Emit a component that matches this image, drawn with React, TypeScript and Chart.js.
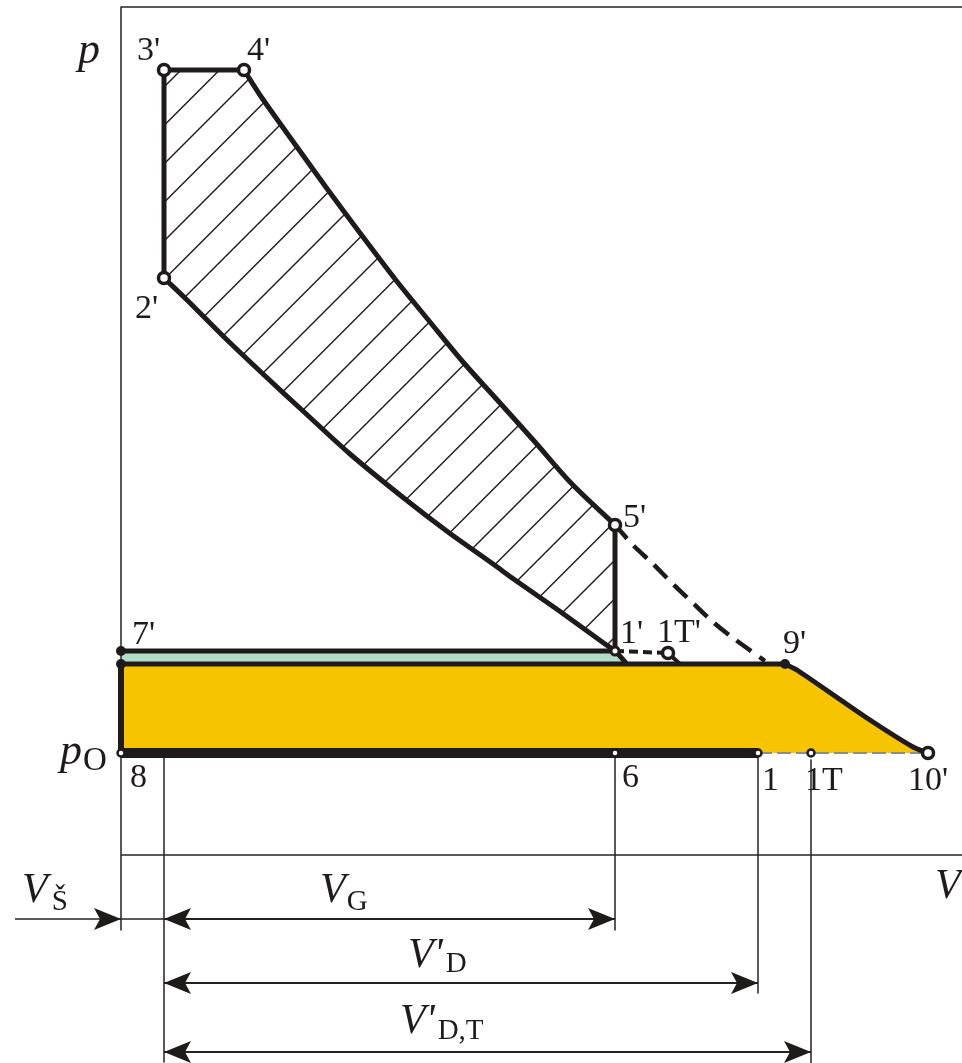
import { useEffect, useRef } from 'react';
import { Chart, registerables } from 'chart.js';

Chart.register(...registerables);

const WIDTH = 962;
const HEIGHT = 1063;

const INK = '#1f1b1b';
const THIN = '#262222';
const YELLOW = '#f6c400';
const MINT = '#b3ddc8';
const GREY_DASH = '#8c8c8c';
const SERIF = '"Liberation Serif", "Times New Roman", serif';

// Plot window in diagram units (V to the right, p upwards)
const V_MIN = -12.1;
const V_MAX = 84.1;
const P_MIN = -20.8;
const P_MAX = 85.5;

// Volumes of the marked states
const V_8 = 0;
const V_3 = 4.3; // 3' and 2' (clearance volume)
const V_4 = 12.3;
const V_5 = 49.4; // 5', 1' and 6
const V_1T1 = 54.7;
const V_1 = 63.7;
const V_9 = 66.4;
const V_1T = 69.0;
const V_10 = 80.7;
const V_CMP_END = 50.6;
const V_1T1_END = 55.9;
const V_LEADER = -10.6;

// Pressures of the marked states
const P_O = 10.2;
const P_9 = 19.1;
const P_7 = 20.4;
const P_1T1 = 20.2;
const P_5 = 33.0;
const P_2 = 57.7;
const P_3 = 78.5;
const P_FRAME = 84.8;
const P_DIM = [-6.4, -12.8, -19.7];

// Expansion 4' -> 5'
const EXP_V = [12.3, 14.1, 17.6, 20.7, 23.9, 27.4, 30.9, 34.2, 37.9, 41.4, 45.0, 49.4];
const EXP_P = [78.5, 75.7, 70.8, 66.5, 62.2, 57.6, 53.3, 49.3, 45.2, 41.3, 37.2, 33.0];
// Compression 2' -> 1'
const CMP_V = [4.3, 6.6, 10.2, 14.2, 18.2, 22.9, 28.4, 32.7, 37.2, 39.4, 43.7, 48.4, 49.4];
const CMP_P = [57.7, 55.5, 51.9, 48.1, 44.4, 40.1, 35.6, 32.3, 29.1, 27.5, 24.5, 21.1, 20.4];
// Dashed expansion 5' -> 9'
const BLOW_V = [49.4, 51.2, 53.2, 55.2, 57.2, 59.2, 61.2, 64.4];
const BLOW_P = [33.0, 31.0, 29.1, 27.1, 25.2, 23.3, 21.7, 19.4];
// Outflow 9' -> 10'
const OUT_V = [66.4, 67.6, 74.6, 79.2, 80.7];
const OUT_P = [19.1, 18.5, 13.7, 10.8, 10.2];

// Thin extension lines
const EXT_V = [V_8, V_3, V_5, V_1, V_1T];
const EXT_FROM = [P_FRAME, P_O, P_O, P_O, 9.5];
const EXT_TO = [-7.5, -20.7, -7.5, -13.8, P_MIN];

type Pt = { x: number; y: number };
const pts = (vs: number[], ps: number[]): Pt[] => vs.map((x, i) => ({ x, y: ps[i] }));
const P = (x: number, y: number): Pt => ({ x, y });

// State markers: [V, p, radius, border width, open?]
const MARKERS: [number, number, number, number, boolean][] = [
  [V_3, P_3, 5.5, 3.5, true],
  [V_4, P_3, 5.5, 3.5, true],
  [V_3, P_2, 5.5, 3.5, true],
  [V_5, P_5, 5.5, 3.5, true],
  [V_5, P_7, 4, 3, true],
  [V_1T1, P_1T1, 5.5, 3.5, true],
  [V_9, P_9, 4, 2, false],
  [V_10, P_O, 5.5, 3.5, true],
  [V_8, P_O, 3.5, 2.5, true],
  [V_5, P_O, 3.5, 2.5, true],
  [V_1, P_O, 3.5, 2.5, true],
  [V_1T, P_O, 3.5, 2.5, true],
  [V_8, P_7, 4, 2, false],
  [V_8, P_9, 4, 2, false],
];

// Labels of states: text, anchor V, anchor p, pixel offset
const STATE_LABELS: [string, number, number, number, number][] = [
  ["3'", V_3, P_3, -27, -10],
  ["4'", V_4, P_3, 3, -10],
  ["2'", V_3, P_2, -29, 40],
  ["5'", V_5, P_5, 8, 2],
  ["1'", V_5, P_7, 5, -8],
  ["1T'", V_1T1, P_1T1, -11, -11],
  ["9'", V_9, P_9, -2, -11],
  ["7'", V_8, P_7, 11, -7],
  ['8', V_8, P_O, 9, 34],
  ['6', V_5, P_O, 7, 34],
  ['1', V_1, P_O, 4, 37],
  ['1T', V_1T, P_O, -6, 37],
  ["10'", V_10, P_O, -20, 37],
];

type Part = { t: string; font: string; dy?: number; gap?: number };
const MAIN = `italic 42px ${SERIF}`;
const SUB = `29px ${SERIF}`;
const RICH_LABELS: { v: number; p: number; dx: number; dy: number; parts: Part[] }[] = [
  { v: V_8, p: P_3, dx: -43, dy: -7, parts: [{ t: 'p', font: `italic 44px ${SERIF}` }] },
  { v: V_8, p: P_O, dx: -61, dy: 11, parts: [{ t: 'p', font: `italic 44px ${SERIF}`, gap: 1 }, { t: 'O', font: `33px ${SERIF}`, dy: 6 }] },
  { v: V_MAX, p: 0, dx: -27, dy: 43, parts: [{ t: 'V', font: MAIN }] },
  { v: V_8, p: P_DIM[0], dx: -99, dy: -17, parts: [{ t: 'V', font: MAIN, gap: 4 }, { t: 'Š', font: SUB, dy: 8 }] },
  { v: V_3, p: P_DIM[0], dx: 156, dy: -17, parts: [{ t: 'V', font: MAIN, gap: 1 }, { t: 'G', font: SUB, dy: 8 }] },
  { v: V_3, p: P_DIM[1], dx: 244, dy: -16, parts: [{ t: "V'", font: MAIN, gap: 3 }, { t: 'D', font: SUB, dy: 5 }] },
  { v: V_3, p: P_DIM[2], dx: 236, dy: -19, parts: [{ t: "V'", font: MAIN, gap: 3 }, { t: 'D,T', font: SUB, dy: 6 }] },
];

// Arrow heads on dimension lines: V, p, direction
const ARROWS: [number, number, number][] = [
  [V_8, P_DIM[0], 1],
  [V_3, P_DIM[0], -1],
  [V_5, P_DIM[0], 1],
  [V_3, P_DIM[1], -1],
  [V_1, P_DIM[1], 1],
  [V_3, P_DIM[2], -1],
  [V_1T, P_DIM[2], 1],
];

function line(data: Pt[], width: number, color = INK, dash: number[] = [], tension = 0, order = 5) {
  return {
    data,
    borderColor: color,
    borderWidth: width,
    borderDash: dash,
    borderCapStyle: 'butt' as const,
    borderJoinStyle: 'round' as const,
    pointRadius: 0,
    fill: false,
    tension,
    order,
  };
}

function area(data: Pt[], color: string | CanvasPattern, order = 20) {
  return {
    data,
    borderWidth: 0,
    borderColor: 'rgba(0,0,0,0)',
    backgroundColor: color,
    pointRadius: 0,
    fill: 'shape',
    tension: 0,
    order,
  };
}

function hatch(ctx: CanvasRenderingContext2D): CanvasPattern | string {
  const tile = document.createElement('canvas');
  tile.width = 77;
  tile.height = 77;
  const t = tile.getContext('2d');
  if (!t) return 'rgba(0,0,0,0)';
  t.strokeStyle = INK;
  t.lineWidth = 1.4;
  for (const c of [-18.5, 20, 58.5, 97, 135.5, 174]) {
    t.beginPath();
    t.moveTo(c + 4, -4);
    t.lineTo(-4, c + 4);
    t.stroke();
  }
  return ctx.createPattern(tile, 'repeat') || 'rgba(0,0,0,0)';
}

const overlay = {
  id: 'overlay',
  afterDatasetsDraw(chart: any) {
    const { ctx } = chart;
    const sx = chart.scales.x;
    const sy = chart.scales.y;
    const px = (v: number) => sx.getPixelForValue(v);
    const py = (p: number) => sy.getPixelForValue(p);
    ctx.save();
    ctx.fillStyle = INK;
    for (const [v, p, dir] of ARROWS) {
      const x = px(v);
      const y = py(p);
      ctx.beginPath();
      ctx.moveTo(x, y);
      ctx.lineTo(x - dir * 27, y - 11);
      ctx.lineTo(x - dir * 21, y);
      ctx.lineTo(x - dir * 27, y + 11);
      ctx.closePath();
      ctx.fill();
    }
    ctx.textAlign = 'left';
    ctx.textBaseline = 'alphabetic';
    ctx.font = `34px ${SERIF}`;
    for (const [t, v, p, dx, dy] of STATE_LABELS) {
      ctx.fillText(t, px(v) + dx, py(p) + dy);
    }
    for (const l of RICH_LABELS) {
      let x = px(l.v) + l.dx;
      const y = py(l.p) + l.dy;
      for (const part of l.parts) {
        ctx.font = part.font;
        ctx.fillText(part.t, x, y + (part.dy || 0));
        x += ctx.measureText(part.t).width + (part.gap || 0);
      }
    }
    ctx.restore();
  },
};

export default function App() {
  const ref = useRef<HTMLCanvasElement>(null);

  useEffect(() => {
    const canvas = ref.current;
    if (!canvas) return;
    const ctx = canvas.getContext('2d');
    if (!ctx) return;

    const expansion = pts(EXP_V, EXP_P);
    const compression = pts(CMP_V, CMP_P);
    const outflow = pts(OUT_V, OUT_P);

    const cycle = [P(V_3, P_3), ...expansion, P(V_5, P_7), ...compression.slice().reverse()];
    const mint = [P(V_8, P_7), P(V_5, P_7), P(V_CMP_END, P_9), P(V_8, P_9)];
    const yellow = [P(V_8, P_9), ...outflow, P(V_8, P_O)];

    const datasets: any[] = [
      area(yellow, YELLOW, 30),
      area(mint, MINT, 30),
      area(cycle, hatch(ctx), 25),
      // frame and extension lines
      line([P(V_8, P_FRAME), P(V_MAX, P_FRAME)], 1.5, THIN, [], 0, 15),
      line([P(V_8, 0), P(V_MAX, 0)], 1.5, THIN, [], 0, 15),
      ...EXT_V.map((v, i) => line([P(v, EXT_FROM[i]), P(v, EXT_TO[i])], 1.5, THIN, [], 0, 15)),
      // dimension lines
      line([P(V_LEADER, P_DIM[0]), P(V_3, P_DIM[0])], 1.5, THIN, [], 0, 15),
      line([P(V_3, P_DIM[0]), P(V_5, P_DIM[0])], 1.8, THIN, [], 0, 15),
      line([P(V_3, P_DIM[1]), P(V_1, P_DIM[1])], 2, THIN, [], 0, 15),
      line([P(V_3, P_DIM[2]), P(V_1T, P_DIM[2])], 2, THIN, [], 0, 15),
      // cycle outline
      line([P(V_3, P_2), P(V_3, P_3), P(V_4, P_3)], 5),
      line(expansion, 5, INK, [], 0.3),
      line([P(V_5, P_5), P(V_5, P_7)], 5),
      line([...compression, P(V_CMP_END, P_9)], 5, INK, [], 0.3),
      line(pts(BLOW_V, BLOW_P), 4.5, INK, [18, 10], 0.3),
      line([P(V_5, P_7), P(V_1T1, P_1T1)], 4, INK, [9, 5]),
      line([P(V_1T1, P_1T1), P(V_1T1_END, P_9)], 4),
      line([P(V_8, P_7), P(V_5, P_7)], 5),
      line([P(V_8, P_9), P(V_9, P_9)], 5),
      line(outflow, 5, INK, [], 0.2),
      line([P(V_8, P_9), P(V_8, P_O)], 6),
      line([P(V_8, P_O), P(V_1, P_O)], 10),
      line([P(V_1, P_O), P(V_10, P_O)], 2, GREY_DASH, [14, 5]),
      {
        data: MARKERS.map(([x, y]) => ({ x, y })),
        showLine: false,
        pointRadius: MARKERS.map((m) => m[2]),
        pointBorderWidth: MARKERS.map((m) => m[3]),
        pointBackgroundColor: MARKERS.map((m) => (m[4] ? '#ffffff' : INK)),
        pointBorderColor: INK,
        pointHoverRadius: MARKERS.map((m) => m[2]),
        order: 0,
      },
    ];

    const chart = new Chart(canvas, {
      type: 'line',
      data: { datasets },
      options: {
        animation: false,
        responsive: false,
        events: [],
        layout: { padding: 0, autoPadding: false },
        plugins: {
          legend: { display: false },
          tooltip: { enabled: false },
        },
        scales: {
          x: { type: 'linear', display: false, min: V_MIN, max: V_MAX },
          y: { type: 'linear', display: false, min: P_MIN, max: P_MAX },
        },
      },
      plugins: [overlay],
    });

    return () => chart.destroy();
  }, []);

  return (
    <div style={{ position: 'absolute', left: 0, top: 0, width: WIDTH, height: HEIGHT, background: '#ffffff' }}>
      <canvas ref={ref} width={WIDTH} height={HEIGHT} style={{ display: 'block', width: WIDTH, height: HEIGHT }} />
    </div>
  );
}
